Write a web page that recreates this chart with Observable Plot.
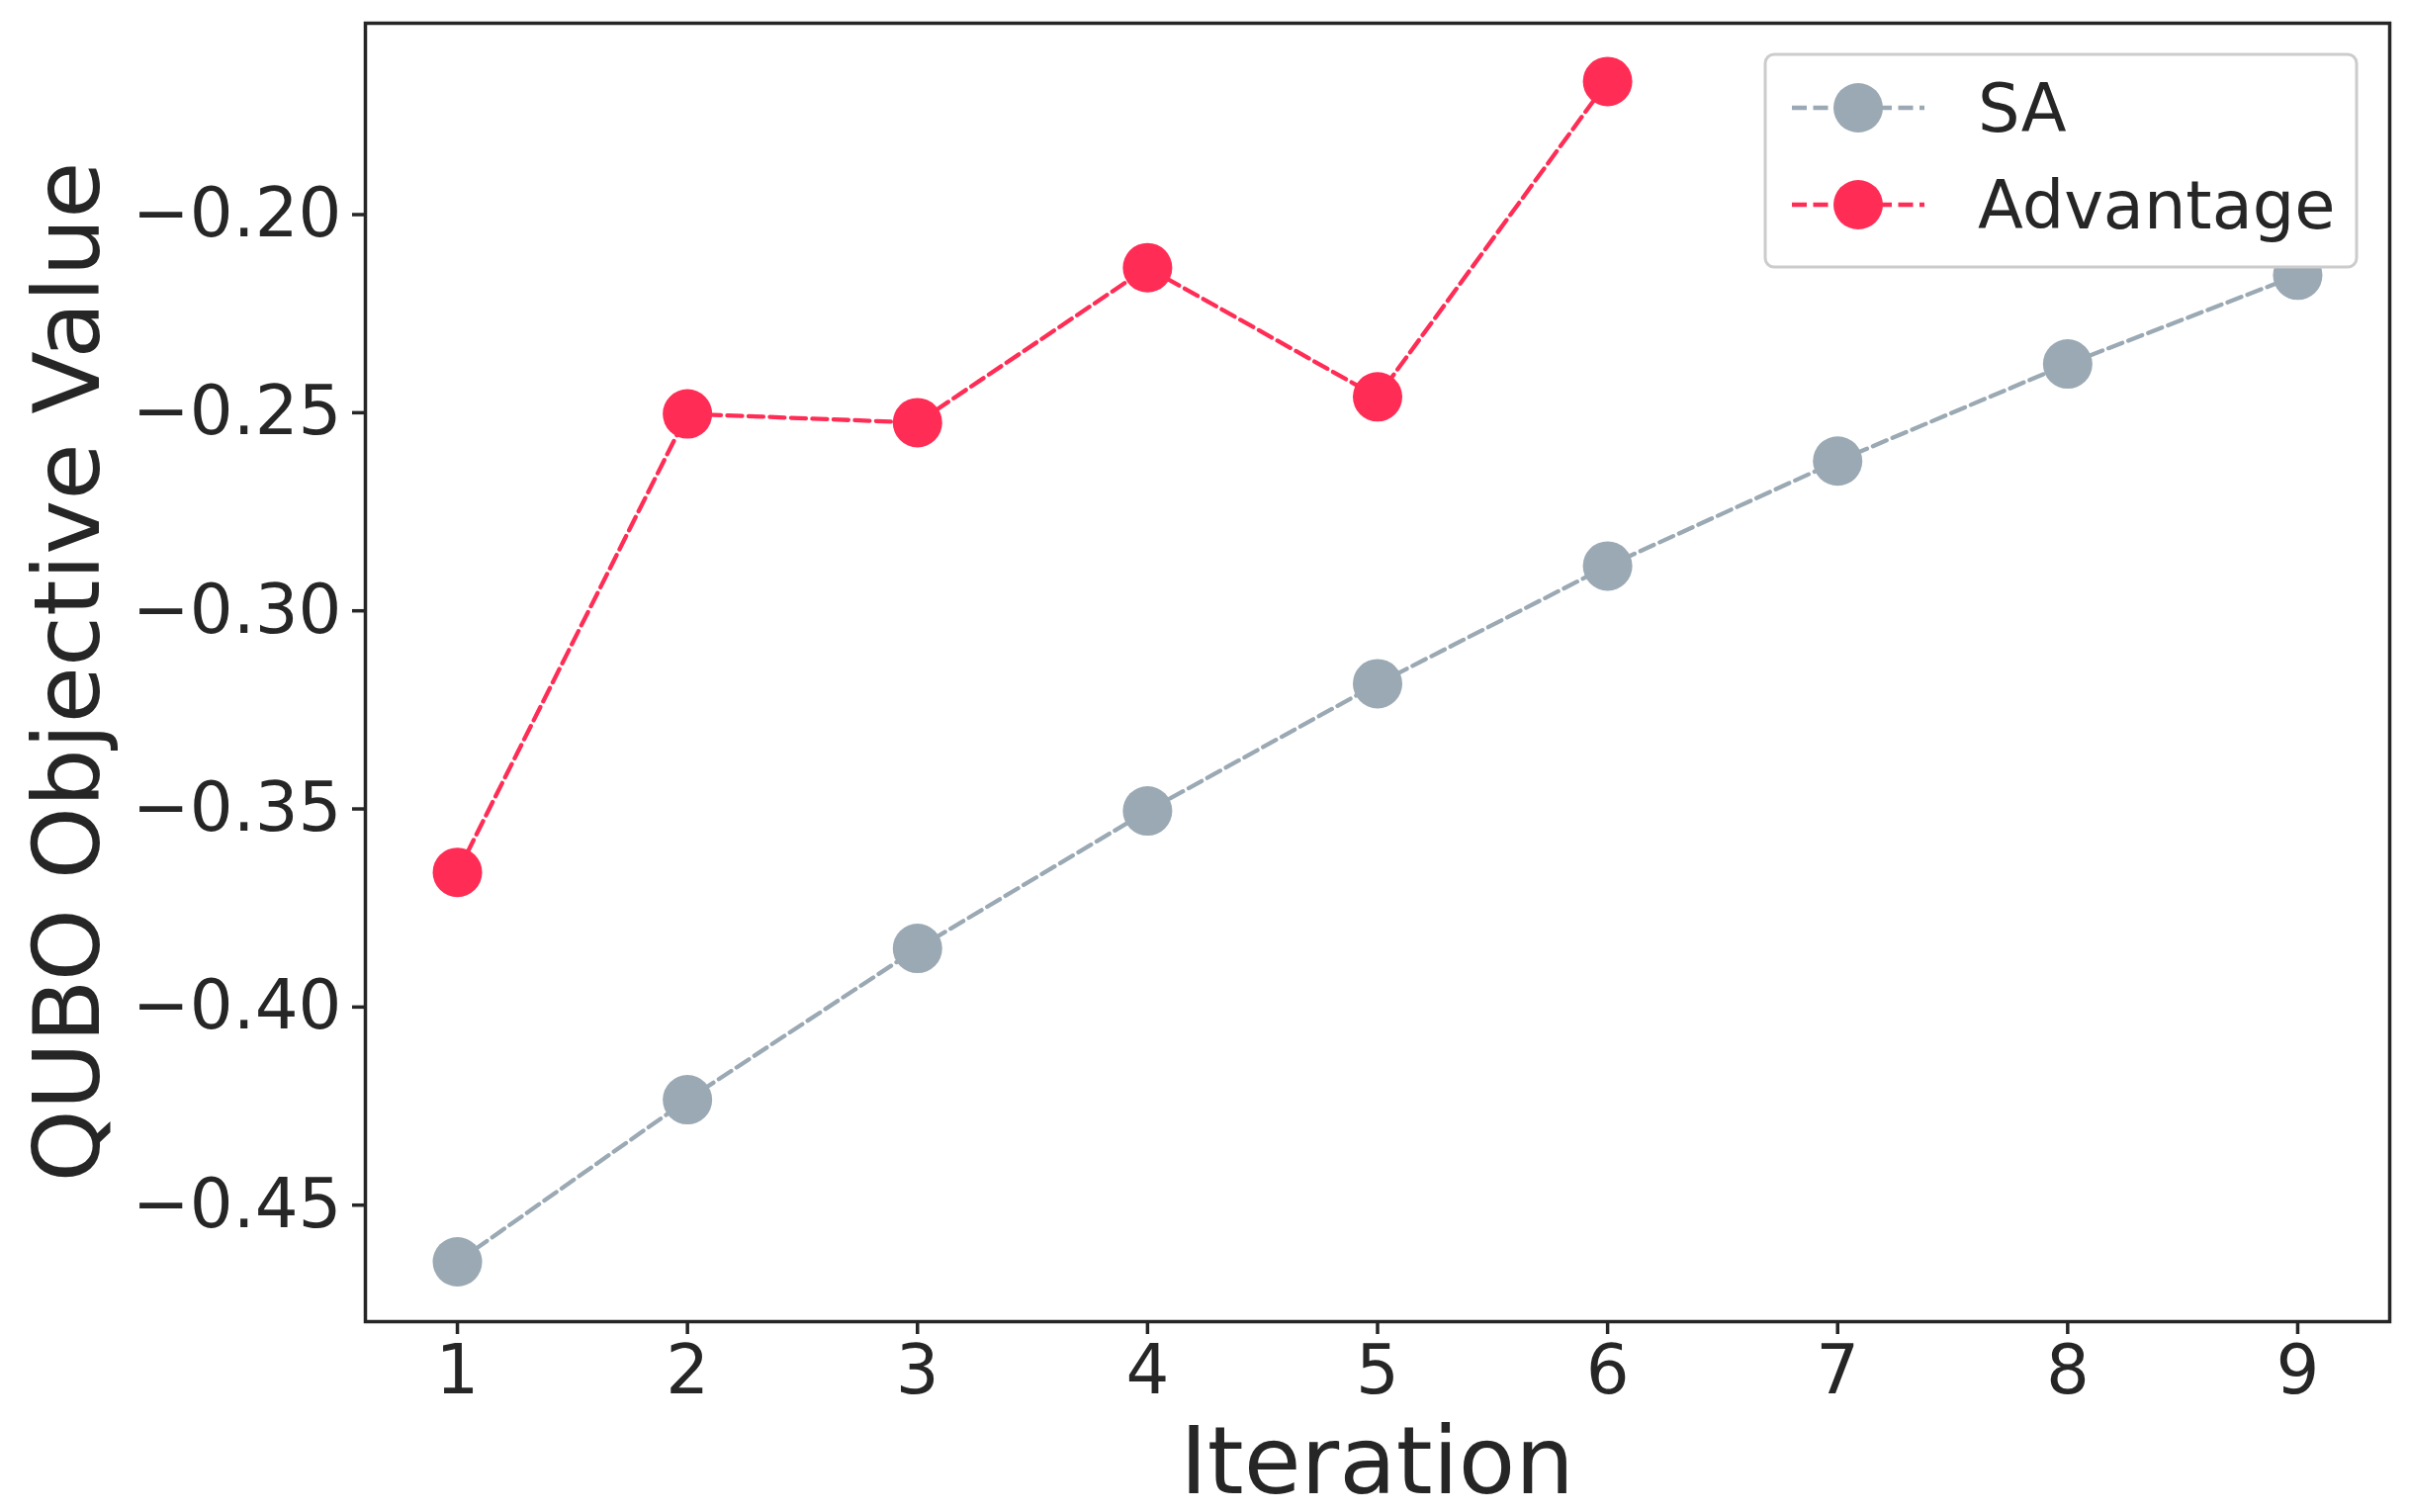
<!DOCTYPE html>
<html><head><meta charset="utf-8">
<script src="https://cdn.jsdelivr.net/npm/d3@7"></script>
<script src="https://cdn.jsdelivr.net/npm/@observablehq/plot@0.6"></script>
<style>html,body{margin:0;padding:0;background:#fff}</style>
</head><body><div id="chart"></div>
<script>
// ---- data ----
const iterations = [1, 2, 3, 4, 5, 6, 7, 8, 9];
const saValues = [-0.4643, -0.4234, -0.3852, -0.3505, -0.3184, -0.2887, -0.2622, -0.2377, -0.2153];
const advIterations = [1, 2, 3, 4, 5, 6];
const advValues = [-0.3660, -0.2503, -0.2525, -0.2134, -0.2460, -0.1664];
const seriesNames = ["SA", "Advantage"];
const seriesColors = ["#9aa9b3", "#ff2d55"];
const xTicks = [1, 2, 3, 4, 5, 6, 7, 8, 9];
const yTicks = [-0.45, -0.40, -0.35, -0.30, -0.25, -0.20];
const xLabel = "Iteration";
const yLabel = "QUBO Objective Value";

const saData = iterations.map((x, i) => ({x, y: saValues[i]}));
const advData = advIterations.map((x, i) => ({x, y: advValues[i]}));

const W = 2436, H = 1529, mL = 369, mR = 20, mT = 23, mB = 193;
const ink = "#262626";
const dash = "15,6.5";
const lw = 4.3;

const plot = Plot.plot({
  width: W, height: H,
  marginLeft: mL, marginRight: mR, marginTop: mT, marginBottom: mB,
  style: {fontFamily: "DejaVu Sans", color: ink, background: "#fff", overflow: "visible"},
  x: {domain: [0.6, 9.4]},
  y: {domain: [-0.4794, -0.1517]},
  marks: [
    Plot.axisX(xTicks, {tickSize: 13, tickPadding: 10, fontSize: 69, strokeWidth: 3.5, stroke: ink, fill: ink, tickFormat: d => String(d), label: null}),
    Plot.axisY(yTicks, {tickSize: 13, tickPadding: 11, fontSize: 69, strokeWidth: 3.5, stroke: ink, fill: ink, tickFormat: d3.format(".2f"), label: null}),
    Plot.line(saData, {x: "x", y: "y", stroke: seriesColors[0], strokeWidth: lw, strokeDasharray: dash}),
    Plot.dot(saData, {x: "x", y: "y", r: 25, fill: seriesColors[0], stroke: "none"}),
    Plot.line(advData, {x: "x", y: "y", stroke: seriesColors[1], strokeWidth: lw, strokeDasharray: dash}),
    Plot.dot(advData, {x: "x", y: "y", r: 25, fill: seriesColors[1], stroke: "none"}),
    Plot.frame({stroke: ink, strokeWidth: 3.5})
  ]
});
document.getElementById("chart").appendChild(plot);

const svg = d3.select(plot);
const cx = (mL + (W - mR)) / 2, cy = (mT + (H - mB)) / 2;
svg.append("text").text(xLabel)
  .attr("x", cx).attr("y", 1510).attr("text-anchor", "middle")
  .attr("font-size", 94).attr("fill", ink).attr("font-family", "DejaVu Sans");
svg.append("text").text(yLabel)
  .attr("transform", `translate(100,${cy}) rotate(-90)`).attr("text-anchor", "middle")
  .attr("font-size", 93).attr("fill", ink).attr("font-family", "DejaVu Sans");

// legend
const lg = svg.append("g");
lg.append("rect").attr("x", 1785).attr("y", 55).attr("width", 598).attr("height", 215)
  .attr("rx", 9).attr("fill", "#fff").attr("stroke", "#cccccc").attr("stroke-width", 3);
const rowY = [109, 207];
seriesNames.forEach((name, i) => {
  lg.append("line").attr("x1", 1812).attr("x2", 1946).attr("y1", rowY[i]).attr("y2", rowY[i])
    .attr("stroke", seriesColors[i]).attr("stroke-width", lw).attr("stroke-dasharray", dash);
  lg.append("circle").attr("cx", 1879).attr("cy", rowY[i]).attr("r", 25).attr("fill", seriesColors[i]);
  lg.append("text").text(name).attr("x", 2000).attr("y", rowY[i] + 24)
    .attr("text-anchor", "start")
    .attr("font-size", 67).attr("fill", ink).attr("font-family", "DejaVu Sans");
});
</script>
</body></html>
